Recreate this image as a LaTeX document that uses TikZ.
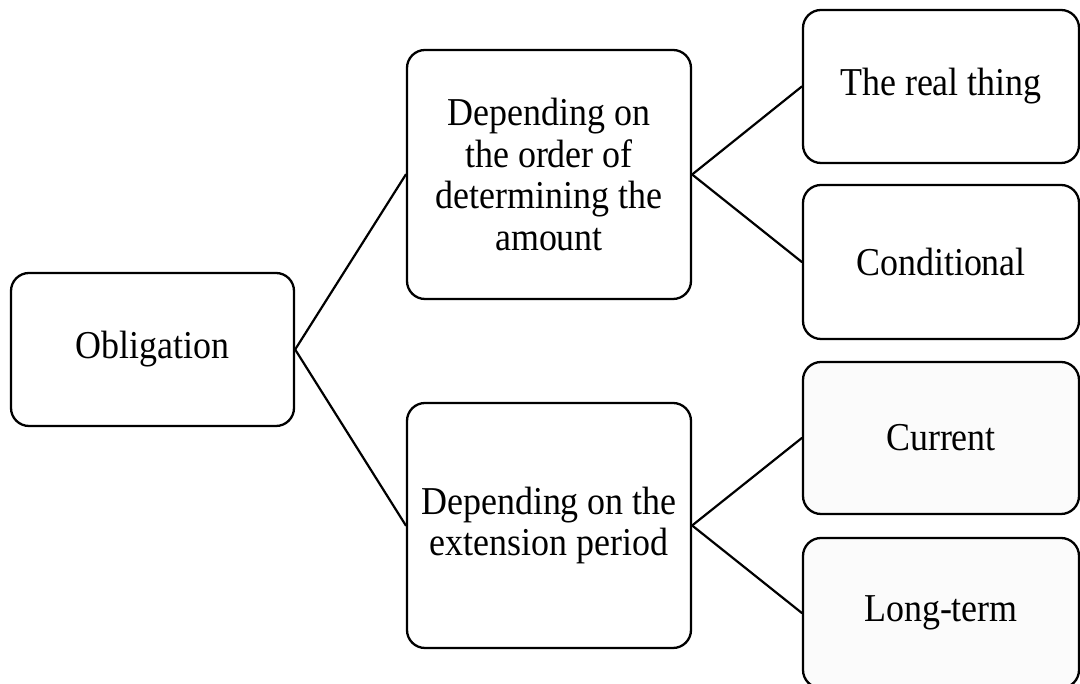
\documentclass[tikz,border=0pt]{standalone}
\usepackage{fontspec}
\setmainfont{Liberation Serif}[FakeStretch=0.91]
\begin{document}
\begin{tikzpicture}[x=1pt,y=1pt,
  box/.style={draw=black, line width=2.3pt, rounded corners=18pt, rectangle,
    inner sep=0pt, align=center,
    font=\fontsize{39.5}{41.5}\selectfont},
  link/.style={line width=2.2pt, line cap=round}]
\useasboundingbox (0,0) rectangle (1080,684);
\clip (0,0) rectangle (1080,684);

% root
\node[box, minimum width=283pt, minimum height=153pt] (ob) at (152.5,334.5) {Obligation};

% first level
\node[box, minimum width=284pt, minimum height=249pt] (m1) at (549,509.5)
  {Depending on\\the order of\\determining the\\amount};
\node[box, minimum width=284pt, minimum height=245pt] (m2) at (549,158.5)
  {Depending on the\\extension period};

% second level
\node[box, minimum width=276pt, minimum height=153pt] (r1) at (941,597.5) {The real thing};
\node[box, minimum width=276pt, minimum height=154pt] (r2) at (941,422) {Conditional};
\node[box, fill=black!1.5, minimum width=276pt, minimum height=152pt] (r3) at (941,246) {Current};
\node[box, fill=black!1.5, minimum width=276pt, minimum height=150pt] (r4) at (941,71) {Long-term};

% connectors
\draw[link] (ob.east) -- (m1.west);
\draw[link] (ob.east) -- (m2.west);
\draw[link] (m1.east) -- (r1.west);
\draw[link] (m1.east) -- (r2.west);
\draw[link] (m2.east) -- (r3.west);
\draw[link] (m2.east) -- (r4.west);
\end{tikzpicture}
\end{document}
